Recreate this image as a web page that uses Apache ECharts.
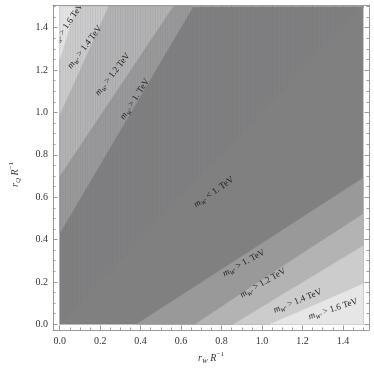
<!DOCTYPE html>
<html><head><meta charset="utf-8">
<script src="https://cdn.jsdelivr.net/npm/echarts@6/dist/echarts.min.js"></script>
<style>html,body{margin:0;padding:0;background:#fff}#c{width:374px;height:370px}</style>
</head><body><div id="c"></div>
<script>
// ---- data ----
const plotRange = [0, 1.5];
const xTickValues = [0, 0.2, 0.4, 0.6, 0.8, 1.0, 1.2, 1.4];
const yTickValues = [0, 0.2, 0.4, 0.6, 0.8, 1.0, 1.2, 1.4];
const minorTickValues = [0.05, 0.1, 0.15, 0.25, 0.3, 0.35, 0.45, 0.5, 0.55, 0.65, 0.7, 0.75, 0.85, 0.9, 0.95, 1.05, 1.1, 1.15, 1.25, 1.3, 1.35, 1.45, 1.5];
const levelNames = ['1.', '1.2', '1.4', '1.6'];
// contour boundaries (r_W, r_Q) in the lower-right corner, levels 1, 1.2, 1.4, 1.6 TeV
const lowerBoundary1 = [[0.38, 0], [0.94, 0.345], [1.5, 0.69]];
const lowerBoundary12 = [[0.67, 0], [1.08, 0.26], [1.5, 0.52]];
const lowerBoundary14 = [[0.86, 0], [1.18, 0.185], [1.5, 0.37]];
const lowerBoundary16 = [[1.04, 0], [1.27, 0.095], [1.5, 0.19]];
// contour boundaries in the upper-left corner
const upperBoundary1 = [[0, 0.43], [0.33, 0.965], [0.66, 1.5]];
const upperBoundary12 = [[0, 0.70], [0.28, 1.10], [0.56, 1.5]];
const upperBoundary14 = [[0, 0.99], [0.12, 1.245], [0.24, 1.5]];
const upperBoundary16 = [[0, 1.25], [0.04, 1.375], [0.08, 1.5]];
// sampling-artifact zone above the diagonal r_Q = r_W
const diagonalZone = [[0, 0], [1.5, 1.5], [0, 1.5]];
// region labels: [r_W, r_Q, relation, level index]
const labelPoints = [
  [0.036, 1.41, '>', 3], [0.124, 1.308, '>', 2], [0.262, 1.18, '>', 1], [0.371, 1.063, '>', 0],
  [0.762, 0.624, '<', 0],
  [0.91, 0.289, '>', 0], [1.005, 0.195, '>', 1], [1.176, 0.110, '>', 2], [1.352, 0.072, '>', 3]
];
const labelAngles = [56, 53, 52, 57, 35, 29, 30, 22, 18];

// ---- styles ----
const shades = ['#808080', '#999999', '#b3b3b3', '#cccccc', '#e6e6e6'];
const serif = '"Liberation Serif", "DejaVu Serif", serif';
const frameColor = '#9a9a9a';

const stripeCanvas = document.createElement('canvas');
stripeCanvas.width = 5; stripeCanvas.height = 4;
(function () {
  const g = stripeCanvas.getContext('2d');
  g.fillStyle = 'rgba(80,80,140,0.09)'; g.fillRect(0, 0, 1, 4);
  g.fillStyle = 'rgba(80,80,140,0.05)'; g.fillRect(2, 0, 1, 4);
  g.fillStyle = 'rgba(80,80,140,0.03)'; g.fillRect(3, 0, 1, 4);
})();

const lowers = [lowerBoundary1, lowerBoundary12, lowerBoundary14, lowerBoundary16];
const uppers = [upperBoundary1, upperBoundary12, upperBoundary14, upperBoundary16];
const regions = [{poly: [[plotRange[0], plotRange[0]], [plotRange[1], plotRange[0]], [plotRange[1], plotRange[1]], [plotRange[0], plotRange[1]]], level: 0}];
lowers.forEach((b, i) => regions.push({poly: b.concat([[plotRange[1], plotRange[0]]]), level: i + 1}));
uppers.forEach((b, i) => regions.push({poly: b.concat([[plotRange[0], plotRange[1]]]), level: i + 1}));
regions.push({poly: diagonalZone, level: -1});

const chart = echarts.init(document.getElementById('c'), null, {renderer: 'canvas'});
const tickLabelStyle = {fontFamily: serif, fontSize: 10, color: '#333'};
const nameRich = {
  i: {fontFamily: serif, fontStyle: 'italic', fontSize: 10, color: '#333', lineHeight: 14, verticalAlign: 'middle'},
  sub: {fontFamily: serif, fontStyle: 'italic', fontSize: 7, color: '#333', lineHeight: 14, verticalAlign: 'bottom'},
  sup: {fontFamily: serif, fontSize: 7, color: '#333', lineHeight: 14, verticalAlign: 'top'}
};
function mkAxis(pos, ticks, major, isY) {
  return {
    type: 'value', position: pos,
    min: isY ? -0.027 : -0.033, max: isY ? 1.507 : 1.529,
    axisLine: {show: major, onZero: false, lineStyle: {color: frameColor, width: 1}},
    axisTick: {show: true, inside: true, length: major ? 4.5 : 2.5, customValues: ticks, lineStyle: {color: frameColor}},
    axisLabel: {show: major && (pos === 'bottom' || pos === 'left'), customValues: ticks, formatter: v => v.toFixed(1), margin: isY ? 5 : 6, ...tickLabelStyle},
    splitLine: {show: false}, minorTick: {show: false}
  };
}
const xAxes = [mkAxis('bottom', xTickValues, true, false), mkAxis('bottom', minorTickValues, false, false), mkAxis('top', xTickValues, true, false), mkAxis('top', minorTickValues, false, false)];
const yAxes = [mkAxis('left', yTickValues, true, true), mkAxis('left', minorTickValues, false, true), mkAxis('right', yTickValues, true, true), mkAxis('right', minorTickValues, false, true)];
xAxes[0].name = '{i|r}{sub|W}{i| R}{sup|−1}';
xAxes[0].nameLocation = 'middle';
xAxes[0].nameGap = 21;
xAxes[0].nameTextStyle = {rich: nameRich};
yAxes[0].name = '{i|r}{sub|Q}{i| R}{sup|−1}';
yAxes[0].nameLocation = 'middle';
yAxes[0].nameGap = 31;
yAxes[0].nameRotate = 90;
yAxes[0].nameTextStyle = {rich: nameRich, padding: [0, 14, 0, 0]};

const labelRich = {
  m: {fontFamily: serif, fontStyle: 'italic', fontSize: 9, fill: '#1a1a1a', lineHeight: 12, verticalAlign: 'middle'},
  s: {fontFamily: serif, fontStyle: 'italic', fontSize: 6, fill: '#1a1a1a', lineHeight: 12, verticalAlign: 'bottom'},
  t: {fontFamily: serif, fontSize: 9, fill: '#1a1a1a', lineHeight: 12, verticalAlign: 'middle'}
};

chart.setOption({
  animation: false,
  grid: {left: 41, right: 5, top: 5, bottom: 40, containLabel: false},
  xAxis: xAxes,
  yAxis: yAxes,
  series: [
    {
      type: 'custom', xAxisIndex: 0, yAxisIndex: 0, silent: true,
      data: regions.map(r => r.poly[0]),
      renderItem: (params, api) => {
        const r = regions[params.dataIndex];
        const pts = r.poly.map(p => api.coord(p));
        if (r.level < 0) {
          return {type: 'polygon', shape: {points: pts}, style: {fill: {image: stripeCanvas, repeat: 'repeat'}}};
        }
        return {type: 'polygon', shape: {points: pts}, style: {fill: shades[r.level], stroke: shades[r.level], lineWidth: 0.5}};
      }
    },
    {
      type: 'custom', xAxisIndex: 0, yAxisIndex: 0, silent: true, z: 5,
      data: labelPoints.map(l => [l[0], l[1]]),
      renderItem: (params, api) => {
        const l = labelPoints[params.dataIndex];
        const p = api.coord([l[0], l[1]]);
        const c0 = api.coord([plotRange[0], plotRange[1]]);
        const c1 = api.coord([plotRange[1], plotRange[0]]);
        const txt = '{m|m}{s|W′}{t| ' + l[2] + ' ' + levelNames[l[3]] + ' TeV}';
        return {
          type: 'group',
          clipPath: {type: 'rect', shape: {x: c0[0], y: c0[1], width: c1[0] - c0[0], height: c1[1] - c0[1]}},
          children: [{
            type: 'text', x: p[0], y: p[1], rotation: labelAngles[params.dataIndex] * Math.PI / 180,
            style: {text: txt, rich: labelRich, align: 'center', verticalAlign: 'middle', fill: '#1a1a1a'}
          }]
        };
      }
    }
  ]
});
</script></body></html>
